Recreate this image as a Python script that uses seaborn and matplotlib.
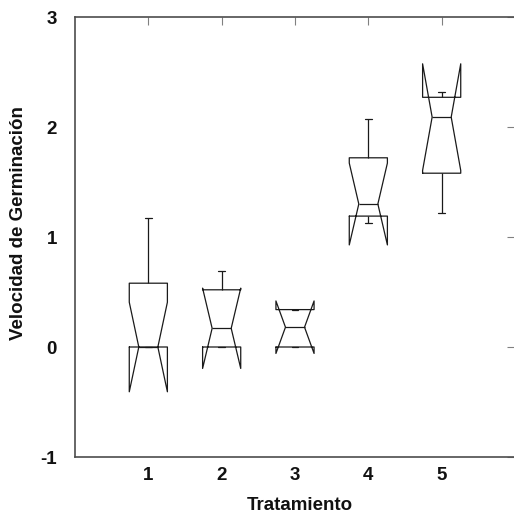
import numpy as np
import pandas as pd
import matplotlib
matplotlib.use("Agg")
import matplotlib.pyplot as plt
import seaborn as sns

# 처리별 관측값 (그림에서 읽은 사분위/수염 값)
tratamiento = ["1", "2", "3", "4", "5"]
t1 = [0.0, 0.0, 0.0, 0.58, 1.17]
t2 = [0.0, 0.0, 0.17, 0.52, 0.69]
t3 = [0.0, 0.0, 0.18, 0.34, 0.34]
t4 = [1.13, 1.19, 1.30, 1.72, 2.07]
t5 = [1.22, 1.58, 2.09, 2.27, 2.32]
y_ticks = [-1, 0, 1, 2, 3]

rows = []
for name, vals in zip(tratamiento, [t1, t2, t3, t4, t5]):
    for v in vals:
        rows.append([name, v])
df = pd.DataFrame(rows, columns=["Tratamiento", "Velocidad"])

sns.set_style("white")
plt.rcParams["font.family"] = ["Liberation Sans", "DejaVu Sans"]

fig = plt.figure(figsize=(5.14, 5.16), dpi=100)
ax = fig.add_axes([75 / 514, 59 / 516, 440 / 514, 440 / 516])

sns.boxplot(data=df, x="Tratamiento", y="Velocidad", order=tratamiento,
            notch=True, width=0.52, fill=False, color="0.1", linewidth=0.9,
            capwidths=0.09, ax=ax)

ax.set_xlim(-1, 5)
ax.set_ylim(-1, 3)
ax.set_yticks(y_ticks)
ax.set_yticklabels([str(t) for t in y_ticks])

ax.tick_params(direction="in", top=True, right=True, length=6, width=0.8,
               color="0.5", labelsize=13.5, labelcolor="#111111")
ax.tick_params(axis="y", pad=13)
ax.tick_params(axis="x", pad=7)
for lab in ax.get_xticklabels() + ax.get_yticklabels():
    lab.set_fontweight("bold")

for sp in ax.spines.values():
    sp.set_color("0.3")
    sp.set_linewidth(1.2)

ax.set_xlabel("Tratamiento", fontsize=13.5, fontweight="bold", color="#111111")
ax.set_ylabel("Velocidad de Germinación", fontsize=13.5, fontweight="bold", color="#111111")
ax.xaxis.set_label_coords(0.511, -0.09)
ax.yaxis.set_label_coords(-0.109, 0.532)

fig.savefig("out.png", dpi=100)
